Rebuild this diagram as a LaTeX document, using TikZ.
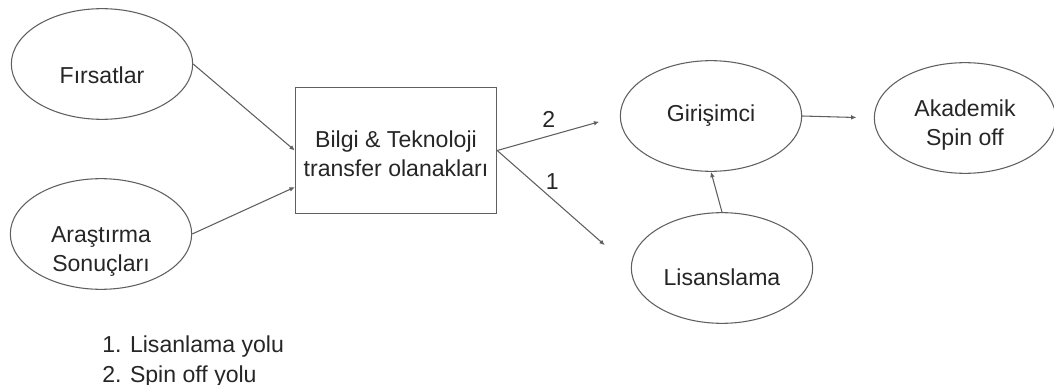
\documentclass[tikz,border=0pt]{standalone}
\usepackage{fontspec}
\setmainfont{Liberation Sans}
\usetikzlibrary{shapes.geometric,arrows.meta,calc}

\definecolor{linegray}{RGB}{95,95,95}
\definecolor{textgray}{RGB}{38,38,38}

\tikzset{oval/.style = {draw=linegray, ellipse, line width=0.8pt, minimum width=136pt, minimum height=83pt, inner sep=0pt, align=center}}

\begin{document}
\begin{tikzpicture}[x=0.75pt, y=-0.75pt, font=\fontsize{17.3}{21.75}\selectfont, text=textgray]
    % Define node styles
    \tikzstyle{block} = [rectangle, draw=linegray, line width=0.8pt, minimum width=151pt, minimum height=94pt, align=center]
    \tikzstyle{flow} = [draw=linegray, line width=0.8pt, -{Latex[length=4pt,width=3.5pt]}]
    \tikzstyle{lbl} = [inner sep=1pt]
    \tikzstyle{low} = [text height=#1, text depth=0pt]

    \useasboundingbox (0,0) rectangle (1054,385);

    % Input nodes (left column)
    \node[oval, low=28.9pt] (fir) at (102,64) {F\i rsatlar};
    \node[oval, low=56.5pt] (ars) at (101,234) {Ara\c{s}t\i rma\\Sonu\c{c}lar\i};

    % Transfer box
    \node[block, low=38.6pt] (box) at (396,150.5) {Bilgi \& Teknoloji\\transfer olanaklar\i};

    % Output nodes (right side)
    \node[oval] (gir) at (711,116) {Giri\c{s}imci};
    \node[oval, low=40.8pt] (aka) at (965,118) {Akademik\\Spin off};
    \node[oval, low=25.9pt] (lis) at (722,268) {Lisanslama};

    % Connectors
    \draw[flow] (fir.east) -- (box.west);
    \draw[flow] (ars.east) -- ($(box.west)!0.58!(box.south west)$);
    \draw[flow, shorten >=16pt] (box.east) -- node[lbl, pos=.42, above=4.8pt] {2} (gir.west);
    \draw[flow, shorten >=26pt] (box.east) -- node[lbl, pos=.35, above right=0pt] {1} (lis.west);
    \draw[flow, shorten >=13pt] (gir.east) -- (aka.west);
    \draw[flow] (lis.north) -- (gir.south);

    % Legend
    \node[anchor=base west, align=left, inner sep=0pt, font=\fontsize{17.3}{22.5}\selectfont] (legend) at (102,382) {1. Lisanlama yolu\\2. Spin off yolu};

\end{tikzpicture}
\end{document}
